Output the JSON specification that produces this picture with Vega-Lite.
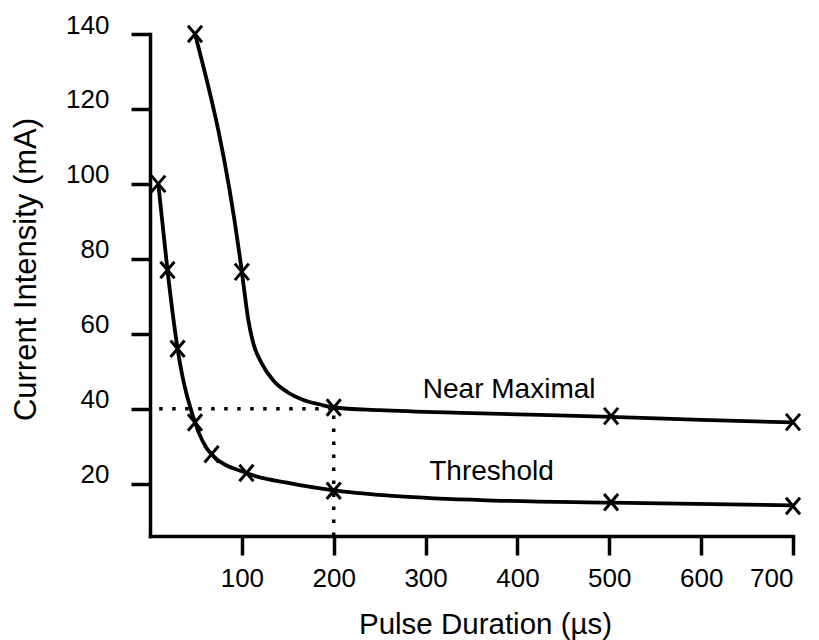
{
  "$schema": "https://vega.github.io/schema/vega-lite/v6.json",
  "autosize": "none",
  "width": 643,
  "height": 502,
  "padding": {"left": 150, "top": 34, "right": 26, "bottom": 104},
  "background": "white",
  "config": {"view": {"stroke": null}, "font": "Liberation Sans"},
  "datasets": {
    "curve": [
      {"series": "Threshold", "x": 9, "y": 100},
      {"series": "Threshold", "x": 19, "y": 77},
      {"series": "Threshold", "x": 30, "y": 56},
      {"series": "Threshold", "x": 49, "y": 36.3},
      {"series": "Threshold", "x": 67, "y": 27.8},
      {"series": "Threshold", "x": 105, "y": 22.8},
      {"series": "Threshold", "x": 152, "y": 20.1},
      {"series": "Threshold", "x": 200, "y": 18.2},
      {"series": "Threshold", "x": 260, "y": 16.8},
      {"series": "Threshold", "x": 360, "y": 15.6},
      {"series": "Threshold", "x": 502, "y": 14.9},
      {"series": "Threshold", "x": 700, "y": 14.2},
      {"series": "Near Maximal", "x": 49, "y": 140},
      {"series": "Near Maximal", "x": 100, "y": 76.5},
      {"series": "Near Maximal", "x": 103, "y": 70.8},
      {"series": "Near Maximal", "x": 107, "y": 63.7},
      {"series": "Near Maximal", "x": 112.5, "y": 57.4},
      {"series": "Near Maximal", "x": 121.6, "y": 52.1},
      {"series": "Near Maximal", "x": 134, "y": 47.6},
      {"series": "Near Maximal", "x": 149, "y": 44.5},
      {"series": "Near Maximal", "x": 167, "y": 42.3},
      {"series": "Near Maximal", "x": 185, "y": 41.1},
      {"series": "Near Maximal", "x": 200, "y": 40.3},
      {"series": "Near Maximal", "x": 250, "y": 39.6},
      {"series": "Near Maximal", "x": 350, "y": 38.8},
      {"series": "Near Maximal", "x": 502, "y": 37.8},
      {"series": "Near Maximal", "x": 600, "y": 37},
      {"series": "Near Maximal", "x": 700, "y": 36.3}
    ],
    "markers": [
      {"series": "Threshold", "x": 9, "y": 100},
      {"series": "Threshold", "x": 19, "y": 77},
      {"series": "Threshold", "x": 30, "y": 56},
      {"series": "Threshold", "x": 49, "y": 36.3},
      {"series": "Threshold", "x": 67, "y": 27.8},
      {"series": "Threshold", "x": 105, "y": 22.8},
      {"series": "Threshold", "x": 200, "y": 18.1},
      {"series": "Threshold", "x": 502, "y": 15},
      {"series": "Threshold", "x": 700, "y": 14},
      {"series": "Near Maximal", "x": 49, "y": 140},
      {"series": "Near Maximal", "x": 100, "y": 76.5},
      {"series": "Near Maximal", "x": 200, "y": 40.3},
      {"series": "Near Maximal", "x": 502, "y": 38},
      {"series": "Near Maximal", "x": 700, "y": 36.4}
    ],
    "guides": [
      {"x": 10, "x2": 200, "y": 40, "y2": 40},
      {"x": 200, "x2": 200, "y": 6, "y2": 40}
    ],
    "labels": [
      {"x": 297, "y": 42.8, "label": "Near Maximal"},
      {"x": 304, "y": 21, "label": "Threshold"}
    ]
  },
  "layer": [
    {
      "data": {"name": "curve"},
      "mark": {"type": "line", "interpolate": "monotone", "color": "black", "strokeWidth": 3.8},
      "encoding": {
        "x": {"field": "x", "type": "quantitative", "scale": {"domain": [0, 700], "nice": false, "zero": false},
          "axis": {"values": [100, 200, 300, 400, 500, 600, 700], "grid": false, "domainColor": "black", "domainWidth": 3.5, "domainCap": "square", "tickColor": "black", "tickWidth": 3.5, "tickSize": 19, "labelFontSize": 26, "labelColor": "black", "labelPadding": 10, "labelFont": "Liberation Sans", "title": "Pulse Duration (µs)", "titleFont": "Liberation Sans", "titleFontSize": 29.5, "titleFontWeight": "normal", "titleColor": "black", "titleX": 335, "titleY": 74, "titleBaseline": "top", "titleAlign": "center"}},
        "y": {"field": "y", "type": "quantitative", "scale": {"domain": [6, 140], "nice": false, "zero": false},
          "axis": {"values": [20, 40, 60, 80, 100, 120, 140], "grid": false, "domainColor": "black", "domainWidth": 3.5, "domainCap": "square", "tickColor": "black", "tickWidth": 3.5, "tickSize": 19, "labelFontSize": 26, "labelColor": "black", "labelPadding": 22, "labelBaseline": "alphabetic", "labelOffset": -1, "labelFont": "Liberation Sans", "title": "Current Intensity (mA)", "titleFont": "Liberation Sans", "titleFontSize": 31, "titleFontWeight": "normal", "titleColor": "black", "titleAngle": -90, "titleX": -139, "titleY": 235, "titleBaseline": "top", "titleAlign": "center"}},
        "detail": {"field": "series"}
      }
    },
    {
      "data": {"name": "guides"},
      "mark": {"type": "rule", "color": "black", "strokeWidth": 3.5, "strokeDash": [3.5, 9.5]},
      "encoding": {
        "x": {"field": "x", "type": "quantitative"},
        "x2": {"field": "x2"},
        "y": {"field": "y", "type": "quantitative"},
        "y2": {"field": "y2"}
      }
    },
    {
      "data": {"name": "markers"},
      "mark": {"type": "point", "shape": "M-0.85,-1L0.85,1M-0.85,1L0.85,-1", "filled": false, "stroke": "black", "strokeWidth": 3, "size": 272, "opacity": 1},
      "encoding": {
        "x": {"field": "x", "type": "quantitative"},
        "y": {"field": "y", "type": "quantitative"}
      }
    },
    {
      "data": {"name": "labels"},
      "mark": {"type": "text", "align": "left", "baseline": "alphabetic", "fontSize": 28, "color": "black", "font": "Liberation Sans"},
      "encoding": {
        "x": {"field": "x", "type": "quantitative"},
        "y": {"field": "y", "type": "quantitative"},
        "text": {"field": "label"}
      }
    }
  ]
}
